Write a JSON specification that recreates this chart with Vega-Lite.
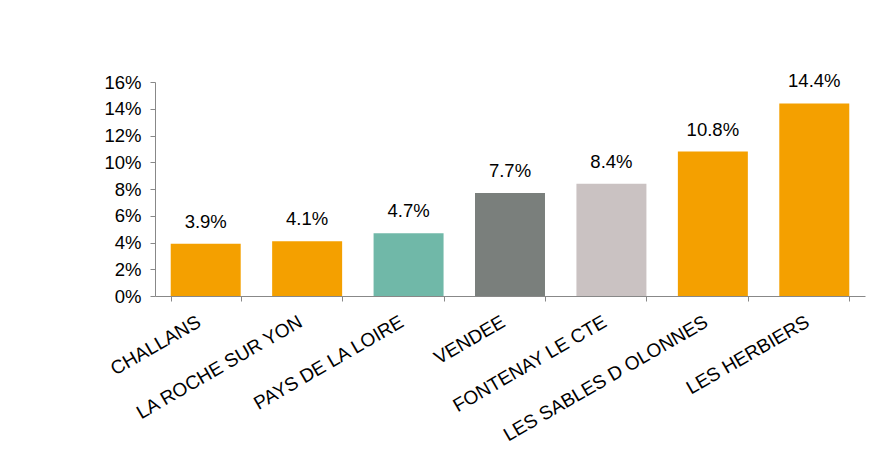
{
  "$schema": "https://vega.github.io/schema/vega-lite/v6.json",
  "width": 710,
  "height": 214,
  "autosize": {"type": "none"},
  "padding": {"left": 155, "top": 82, "right": 25, "bottom": 168},
  "background": "white",
  "config": {"view": {"stroke": null}, "font": "Liberation Sans"},
  "data": {"values": [
    {"zone": "CHALLANS", "value": 0.039, "group": "a"},
    {"zone": "LA ROCHE SUR YON", "value": 0.041, "group": "a"},
    {"zone": "PAYS DE LA LOIRE", "value": 0.047, "group": "b"},
    {"zone": "VENDEE", "value": 0.077, "group": "c"},
    {"zone": "FONTENAY LE CTE", "value": 0.084, "group": "d"},
    {"zone": "LES SABLES D OLONNES", "value": 0.108, "group": "a"},
    {"zone": "LES HERBIERS", "value": 0.144, "group": "a"}
  ]},
  "encoding": {
    "x": {"field": "zone", "type": "nominal", "sort": null,
      "scale": {"paddingInner": 0.31, "paddingOuter": 0.155},
      "axis": {"title": null, "labelAngle": -30, "labelAlign": "right", "labelBaseline": "middle",
        "labelFontSize": 19, "labelColor": "black", "labelPadding": 19, "labelOffset": -7, "labelLimit": 400,
        "domainColor": "#888888", "tickColor": "#888888", "tickBand": "extent", "tickSize": 5}},
    "y": {"field": "value", "type": "quantitative",
      "scale": {"domain": [0, 0.16]},
      "axis": {"title": null, "format": ".0%", "values": [0,0.02,0.04,0.06,0.08,0.1,0.12,0.14,0.16],
        "grid": false, "labelFontSize": 18.5, "labelColor": "black", "labelPadding": 9,
        "domainColor": "#888888", "tickColor": "#888888", "tickSize": 5}}
  },
  "layer": [
    {"mark": {"type": "bar"},
     "encoding": {"color": {"field": "group", "type": "nominal", "legend": null,
       "scale": {"domain": ["a","b","c","d"], "range": ["#F4A000", "#70B8A8", "#7A7F7C", "#CAC2C2"]}}}},
    {"mark": {"type": "text", "baseline": "alphabetic", "dy": -16, "fontSize": 18.5, "color": "black"},
     "encoding": {"text": {"field": "value", "type": "quantitative", "format": ".1%"}}}
  ]
}
